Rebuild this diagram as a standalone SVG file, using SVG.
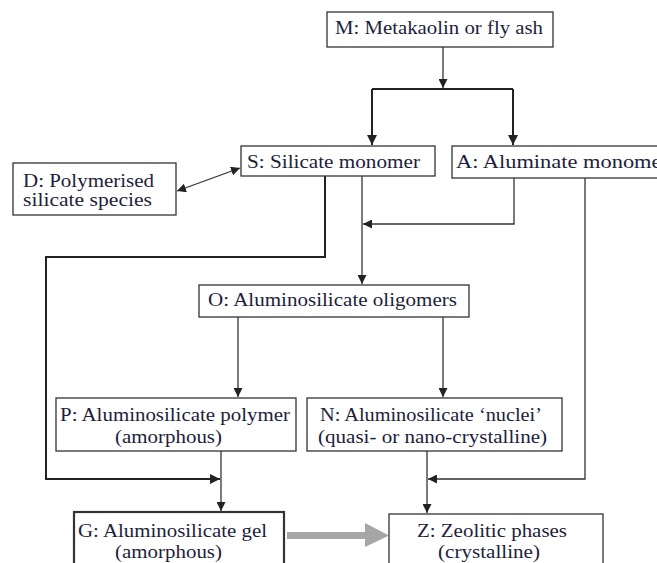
<svg xmlns="http://www.w3.org/2000/svg" width="657" height="563" viewBox="0 0 657 563">
<style>
.box{fill:#fff;stroke:#333;stroke-width:1.3}
.thick{stroke-width:2.2}
text{font-family:"Liberation Serif","Times New Roman","DejaVu Serif",serif;font-size:19px;fill:#1e1e3c}
.c{stroke:#333;stroke-width:1.3;fill:none}
.b{stroke:#222;stroke-width:2;fill:none}
</style>
<defs>
<marker id="ah" viewBox="0 0 10 10" refX="10" refY="5" markerWidth="9" markerHeight="9" markerUnits="userSpaceOnUse" orient="auto-start-reverse">
<path d="M0,0 L10,5 L0,10 z" fill="#222"/>
</marker>
<marker id="ahb" viewBox="0 0 10 10" refX="10" refY="5" markerWidth="10" markerHeight="10" markerUnits="userSpaceOnUse" orient="auto">
<path d="M0,0 L10,5 L0,10 z" fill="#222"/>
</marker>
</defs>
<g id="connectors">
<path class="c" d="M443,47 V88" marker-end="url(#ah)"/>
<path class="b" d="M372,89 H513"/>
<path class="b" d="M372,89 V145" marker-end="url(#ahb)"/>
<path class="b" d="M513,89 V145" marker-end="url(#ahb)"/>
<path class="c" d="M177,191 L240,168" marker-start="url(#ah)" marker-end="url(#ah)"/>
<path class="b" d="M325,176 V257 H46 V479 H220" marker-end="url(#ahb)"/>
<path class="c" d="M362,176 V284" marker-end="url(#ah)"/>
<path class="c" d="M514,178 V224 H363" marker-end="url(#ah)"/>
<path class="c" d="M585,178 V479 H428" marker-end="url(#ah)"/>
<path class="c" d="M238,317 V397" marker-end="url(#ah)"/>
<path class="c" d="M443,317 V397" marker-end="url(#ah)"/>
<path class="c" d="M221,451 V511" marker-end="url(#ah)"/>
<path class="c" d="M427,451 V513" marker-end="url(#ah)"/>
<path d="M287,532 H365 V523 L389,535.5 L365,547 V539 H287 z" fill="#a6a6a6"/>
</g>
<g id="M">
<rect class="box" x="327" y="12" width="226" height="35"/>
<text x="335" y="34" textLength="208" lengthAdjust="spacingAndGlyphs">M: Metakaolin or fly ash</text>
</g>
<g id="S">
<rect class="box" x="241" y="146" width="194" height="30"/>
<text x="247" y="168" textLength="173" lengthAdjust="spacingAndGlyphs">S: Silicate monomer</text>
</g>
<g id="A">
<rect class="box" x="452" y="146" width="215" height="32"/>
<text x="456" y="168" textLength="213" lengthAdjust="spacingAndGlyphs">A: Aluminate monomer</text>
</g>
<g id="D">
<rect class="box" x="13" y="163" width="163" height="52"/>
<text x="23" y="187" textLength="131" lengthAdjust="spacingAndGlyphs">D: Polymerised</text>
<text x="23" y="206" textLength="129" lengthAdjust="spacingAndGlyphs">silicate species</text>
</g>
<g id="O">
<rect class="box" x="199" y="285" width="270" height="32"/>
<text x="208" y="306" textLength="249" lengthAdjust="spacingAndGlyphs">O: Aluminosilicate oligomers</text>
</g>
<g id="P">
<rect class="box" x="56" y="398" width="240" height="53"/>
<text x="60" y="421" textLength="230" lengthAdjust="spacingAndGlyphs">P: Aluminosilicate polymer</text>
<text x="115" y="443" textLength="107" lengthAdjust="spacingAndGlyphs">(amorphous)</text>
</g>
<g id="N">
<rect class="box" x="307" y="398" width="255" height="53"/>
<text x="320" y="421" textLength="222" lengthAdjust="spacingAndGlyphs">N: Aluminosilicate ‘nuclei’</text>
<text x="318" y="443" textLength="229" lengthAdjust="spacingAndGlyphs">(quasi- or nano-crystalline)</text>
</g>
<g id="G">
<rect class="box thick" x="74" y="512" width="210" height="60"/>
<text x="78" y="537" textLength="189" lengthAdjust="spacingAndGlyphs">G: Aluminosilicate gel</text>
<text x="115" y="558" textLength="107" lengthAdjust="spacingAndGlyphs">(amorphous)</text>
</g>
<g id="Z">
<rect class="box" x="389" y="514" width="214" height="60"/>
<text x="417" y="537" textLength="150" lengthAdjust="spacingAndGlyphs">Z: Zeolitic phases</text>
<text x="438" y="558" textLength="102" lengthAdjust="spacingAndGlyphs">(crystalline)</text>
</g>
</svg>
